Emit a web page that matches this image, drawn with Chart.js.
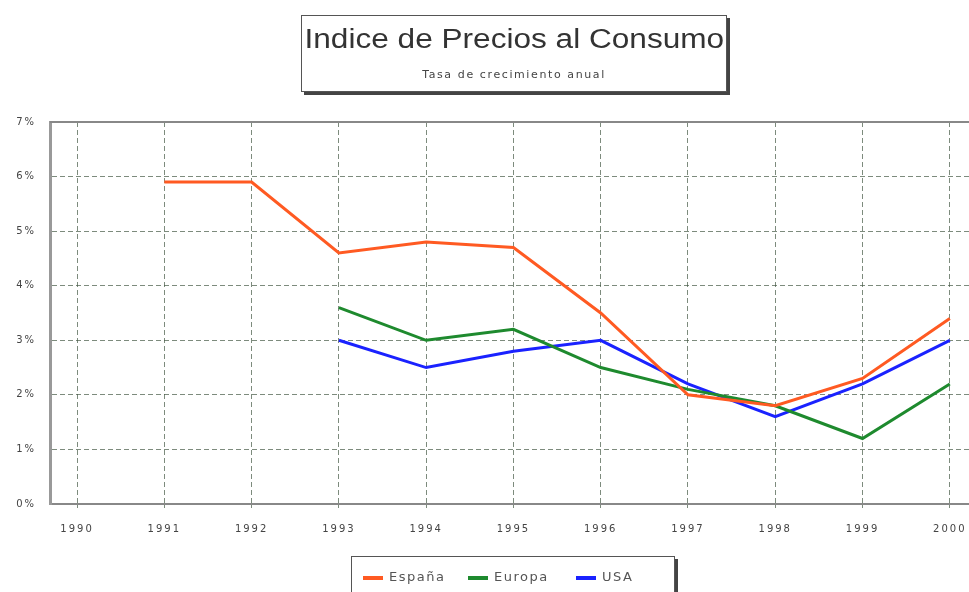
<!DOCTYPE html>
<html>
<head>
<meta charset="utf-8">
<script src="https://cdn.jsdelivr.net/npm/chart.js@4"></script>
<style>
  body { margin: 0; background: #fff; }
  #wrap { position: relative; width: 969px; height: 592px; overflow: hidden; font-family: "Liberation Sans", Arial, sans-serif; }
  #titleBox {
    position: absolute; left: 301px; top: 15px; width: 424px; height: 75px;
    border: 1px solid #555; background: #fff; box-shadow: 3px 3px 0 #444;
    text-align: center; color: #333;
  }
  #titleBox .t { font-size: 27px; margin-top: 8px; height: 32px; }
  #titleBox .t span { display: inline-block; transform: scaleX(1.17); }
  #titleBox .s { font-family: "DejaVu Sans", sans-serif; font-size: 11px; margin-top: 12px; letter-spacing: 1.6px; color: #444; }
  #legendBox {
    position: absolute; left: 351px; top: 556px; width: 322px; height: 50px;
    border: 1px solid #555; background: #fff; box-shadow: 3px 3px 0 #444;
  }
  .item { position: absolute; top: 12px; font-family: "DejaVu Sans", sans-serif; font-size: 13px; letter-spacing: 1.5px; color: #555; }
  .item span { display: inline-block; width: 20px; height: 4px; vertical-align: middle; margin-right: 6px; }
</style>
</head>
<body>
<div id="wrap">
  <canvas id="myChart" width="969" height="592"></canvas>
  <div id="titleBox">
    <div class="t"><span>Indice de Precios al Consumo</span></div>
    <div class="s">Tasa de crecimiento anual</div>
  </div>
  <div id="legendBox"></div>
</div>
<script>
let years = [1990, 1991, 1992, 1993, 1994, 1995, 1996, 1997, 1998, 1999, 2000];
let espana = [null, 5.9, 5.9, 4.6, 4.8, 4.7, 3.5, 2.0, 1.8, 2.3, 3.4];
let europa = [null, null, null, 3.6, 3.0, 3.2, 2.5, 2.1, 1.8, 1.2, 2.2];
let usa = [null, null, null, 3.0, 2.5, 2.8, 3.0, 2.2, 1.6, 2.2, 3.0];
let yTicks = [0, 1, 2, 3, 4, 5, 6, 7];
let seriesNames = ["España", "Europa", "USA"];
let seriesColors = ["#ff5a22", "#1e8a2e", "#1a22ff"];

function points(arr) {
  return years.map((y, i) => ({ x: y, y: arr[i] }));
}

// legend in html box
let legendBox = document.getElementById("legendBox");
let legendX = [11, 116, 224];
seriesNames.forEach((name, i) => {
  let div = document.createElement("div");
  div.className = "item";
  div.style.left = legendX[i] + "px";
  let sw = document.createElement("span");
  sw.style.background = seriesColors[i];
  div.appendChild(sw);
  div.appendChild(document.createTextNode(name));
  legendBox.appendChild(div);
});

const topLine = {
  id: "topLine",
  beforeDraw(chart) {
    chart.ctx.letterSpacing = "2px";
  },
  afterDraw(chart) {
    const ctx = chart.ctx;
    const a = chart.chartArea;
    ctx.save();
    ctx.strokeStyle = "#888";
    ctx.lineWidth = 2;
    ctx.beginPath();
    ctx.moveTo(a.left, a.top);
    ctx.lineTo(a.right, a.top);
    ctx.stroke();
    ctx.restore();
  }
};

const ctx = document.getElementById("myChart");
new Chart(ctx, {
  type: "line",
  data: {
    datasets: [
      { label: seriesNames[0], data: points(espana), borderColor: seriesColors[0] },
      { label: seriesNames[1], data: points(europa), borderColor: seriesColors[1] },
      { label: seriesNames[2], data: points(usa), borderColor: seriesColors[2] }
    ]
  },
  options: {
    responsive: false,
    animation: false,
    layout: { padding: { top: 122, left: 0, right: 0, bottom: 0 } },
    elements: {
      line: { borderWidth: 3, tension: 0 },
      point: { radius: 0 }
    },
    plugins: { legend: { display: false }, title: { display: false }, tooltip: { enabled: false } },
    scales: {
      x: {
        type: "linear",
        min: 1989.69,
        max: 2000.22,
        afterBuildTicks: (scale) => { scale.ticks = years.map(v => ({ value: v })); },
        afterFit: (scale) => { scale.height = 88; scale.paddingLeft = 0; scale.paddingRight = 0; },
        grid: { color: "rgba(70,90,70,0.7)", lineWidth: 1, tickLength: 4 },
        border: { color: "#888", width: 2, dash: [5, 3] },
        ticks: {
          autoSkip: false, maxRotation: 0, padding: 15,
          color: "#444", font: { family: "DejaVu Sans", size: 10 },
          callback: (v) => String(v)
        }
      },
      y: {
        min: 0,
        max: 7,
        afterBuildTicks: (scale) => { scale.ticks = yTicks.map(v => ({ value: v })); },
        afterFit: (scale) => { scale.width = 50; },
        grid: { color: "rgba(70,90,70,0.7)", lineWidth: 1, drawTicks: false },
        border: { color: "#999", width: 3, dash: [5, 3] },
        ticks: {
          padding: 14,
          color: "#444", font: { family: "DejaVu Sans", size: 10 },
          callback: (v) => v + "%"
        }
      }
    }
  },
  plugins: [topLine]
});
</script>
</body>
</html>
